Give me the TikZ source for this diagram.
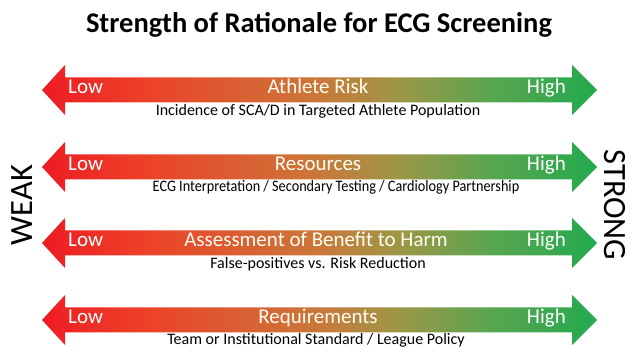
\documentclass[tikz,border=0pt]{standalone}
\usepackage{fontspec}
\setmainfont{Carlito}
\definecolor{cA}{RGB}{238,28,36}
\definecolor{cB}{RGB}{236,66,40}
\definecolor{cC}{RGB}{202,120,58}
\definecolor{cD}{RGB}{158,150,70}
\definecolor{cE}{RGB}{92,165,80}
\definecolor{cF}{RGB}{34,170,78}
\pgfdeclarehorizontalshading{rgshade}{100bp}{color(0bp)=(cA); color(25bp)=(cA); color(34.5bp)=(cB); color(50bp)=(cC); color(57bp)=(cD); color(65bp)=(cE); color(75bp)=(cF); color(100bp)=(cF)}
\tikzset{
  arrowbody/.style={shading=rgshade, draw=none},
  endlabel/.style={text=white, font=\fontsize{21}{23}\selectfont, inner sep=0pt, anchor=mid west},
  endlabelr/.style={text=white, font=\fontsize{21}{23}\selectfont, inner sep=0pt, anchor=mid east},
  mainlabel/.style={text=white!95!yellow, font=\fontsize{21}{23}\selectfont, inner sep=0pt, anchor=mid},
  sublabel/.style={text=black, font=\fontsize{16}{18}\selectfont, inner sep=0pt, anchor=mid},
  sidelabel/.style={text=black, font=\fontsize{32.5}{34}\selectfont, inner sep=0pt},
}
\newcommand{\bigarrow}[1]{%
  \shade[arrowbody] (42,#1) -- (65,#1-25) -- (65,#1-12.5) -- (572,#1-12.5) -- (572,#1-25) -- (597,#1) -- (572,#1+25) -- (572,#1+12.5) -- (65,#1+12.5) -- (65,#1+25) -- cycle;}
\begin{document}
\begin{tikzpicture}[x=1pt,y=-1pt]
\useasboundingbox (0,0) rectangle (632,347);
\clip (0,0) rectangle (632,347);
\node[font=\bfseries\fontsize{28.5}{30}\selectfont, inner sep=0pt] (title) at (319,25) {Strength of Rationale for ECG Screening};
% row 1
\bigarrow{90}
\node[endlabel] (low1) at (68,91) {Low};
\node[mainlabel] (m1) at (318,91) {Athlete Risk};
\node[endlabelr] (high1) at (566,91) {High};
\node[sublabel] (s1) at (318,113) {Incidence of SCA/D in Targeted Athlete Population};
% row 2
\bigarrow{167}
\node[endlabel] (low2) at (68,168) {Low};
\node[mainlabel] (m2) at (318,168) {Resources};
\node[endlabelr] (high2) at (566,168) {High};
\node[sublabel, xscale=0.89] (s2) at (336,189) {ECG Interpretation / Secondary Testing / Cardiology Partnership};
% row 3
\bigarrow{243}
\node[endlabel] (low3) at (68,244) {Low};
\node[mainlabel] (m3) at (316,244) {Assessment of Benefit to Harm};
\node[endlabelr] (high3) at (566,244) {High};
\node[sublabel] (s3) at (318,266) {False-positives vs. Risk Reduction};
% row 4
\bigarrow{320}
\node[endlabel] (low4) at (68,321) {Low};
\node[mainlabel] (m4) at (318,321) {Requirements};
\node[endlabelr] (high4) at (566,321) {High};
\node[sublabel] (s4) at (316,342) {Team or Institutional Standard / League Policy};
% sides
\node[sidelabel, rotate=90] (weak) at (22,205) {WEAK};
\node[sidelabel, rotate=-90] (strong) at (615,205) {STRONG};
\end{tikzpicture}
\end{document}
